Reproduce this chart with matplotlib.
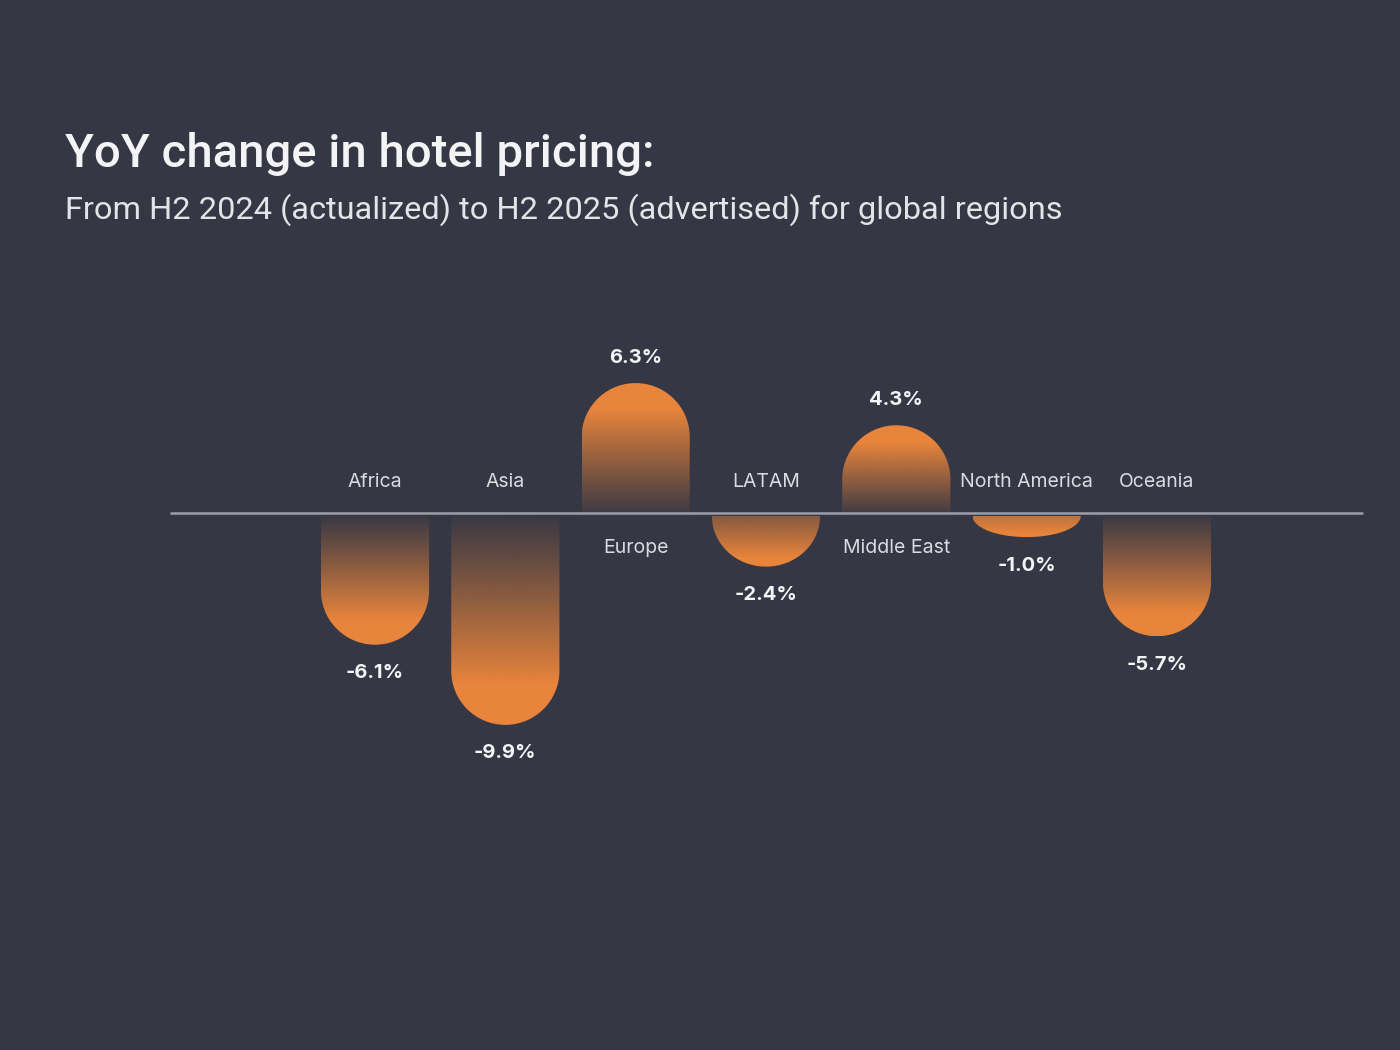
import numpy as np
import matplotlib
matplotlib.use("Agg")
import matplotlib.pyplot as plt
import matplotlib.transforms as mtransforms
from matplotlib.path import Path
from matplotlib.patches import PathPatch
from matplotlib.colors import to_rgb

# ---- data ----
regions = ["Africa", "Asia", "Europe", "LATAM", "Middle East", "North America", "Oceania"]
changes = [-6.1, -9.9, 6.3, -2.4, 4.3, -1.0, -5.7]
value_labels = ["-6.1%", "-9.9%", "6.3%", "-2.4%", "4.3%", "-1.0%", "-5.7%"]
title = "YoY change in hotel pricing:"
subtitle = "From H2 2024 (actualized) to H2 2025 (advertised) for global regions"

# ---- style ----
BG = "#363744"
ORANGE = "#E8843C"
LINE = "#9C9EAA"
LABEL = "#DADBE0"
WHITE = "#F4F4F6"
FONT = ["Inter", "DejaVu Sans"]
TFONT = ["Roboto", "DejaVu Sans"]

W, H, DPI = 1400, 1050, 100
fig = plt.figure(figsize=(W / DPI, H / DPI), dpi=DPI, facecolor=BG)
ax = fig.add_axes([0, 0, 1, 1])
ax.set_facecolor(BG)
ax.axis("off")

px_x = 130.33   # pixels per category
px_y = 21.1     # pixels per percent
zero_px = 516   # pixel row (from top) of value zero
x0 = -375 / px_x
y0 = -(H - zero_px) / px_y
ax.set_xlim(x0, x0 + W / px_x)
ax.set_ylim(y0, y0 + H / px_y)

bar_w = 0.83
hw = bar_w / 2
r_y = hw * px_x / px_y      # rounded-end radius in y data units

orange = np.array(to_rgb(ORANGE))

for i, v in enumerate(changes):
    s = 1 if v > 0 else -1
    L = abs(v)
    if L >= r_y:
        ry = r_y
        yc = s * (L - r_y)
    else:
        ry = L
        yc = 0.0
    t = np.linspace(0, np.pi, 80)
    arc_x = i - hw * np.cos(t)
    arc_y = yc + s * ry * np.sin(t)
    xs = np.concatenate([[i - hw], arc_x, [i + hw]])
    ys = np.concatenate([[0], arc_y, [0]])
    verts = np.column_stack([xs, ys])
    verts = np.vstack([verts, verts[:1]])
    codes = [Path.MOVETO] + [Path.LINETO] * (len(verts) - 2) + [Path.CLOSEPOLY]
    patch = PathPatch(Path(verts, codes), facecolor="none", edgecolor="none")
    ax.add_patch(patch)

    # smooth gradient: transparent near the axis, solid orange at the tip
    n = 256
    d = np.linspace(0, L, n)
    a0 = float(np.clip(1 - L / 4.5, 0.03, 1.0))
    ramp = np.clip(d / (0.8 * L), 0, 1)
    a = a0 + (1 - a0) * ramp ** 1.05
    img = np.zeros((n, 1, 4))
    img[:, 0, :3] = orange
    img[:, 0, 3] = a
    if s > 0:
        im = ax.imshow(img, extent=(i - hw, i + hw, 0, L), origin="lower",
                       aspect="auto", interpolation="bilinear", zorder=2)
    else:
        im = ax.imshow(img, extent=(i - hw, i + hw, -L, 0), origin="upper",
                       aspect="auto", interpolation="bilinear", zorder=2)
    im.set_clip_path(patch)

    # value label beyond the bar end
    voff = 1.2 if s > 0 else 1.35
    ax.text(i, s * (L + voff), value_labels[i], ha="center", va="center",
            color=WHITE, fontsize=14.5, fontweight="bold", family=FONT, zorder=4)
    # category label on the opposite side of the axis
    off = 1.61 if s < 0 else -1.52
    ax.text(i, off, regions[i], ha="center", va="center",
            color=LABEL, fontsize=14, family=FONT, zorder=4)

ax.set_xlim(x0, x0 + W / px_x)
ax.set_ylim(y0, y0 + H / px_y)
# axis line sits a few pixels above the bars' zero
shift = mtransforms.ScaledTranslation(0, 3 / DPI, fig.dpi_scale_trans)
ax.plot([170 / W, 1363 / W], [0, 0], color=LINE, lw=1.8, zorder=3,
        transform=ax.get_yaxis_transform() + shift, solid_capstyle="butt")

fig.text(65 / W, 1 - 167 / H, title, ha="left", va="baseline",
         color=WHITE, fontsize=34, family=TFONT, fontweight="medium")
fig.text(65 / W, 1 - 219 / H, subtitle, ha="left", va="baseline",
         color="#E4E4E8", fontsize=23.4, family=TFONT)

fig.savefig("out.png", dpi=DPI, facecolor=BG)
